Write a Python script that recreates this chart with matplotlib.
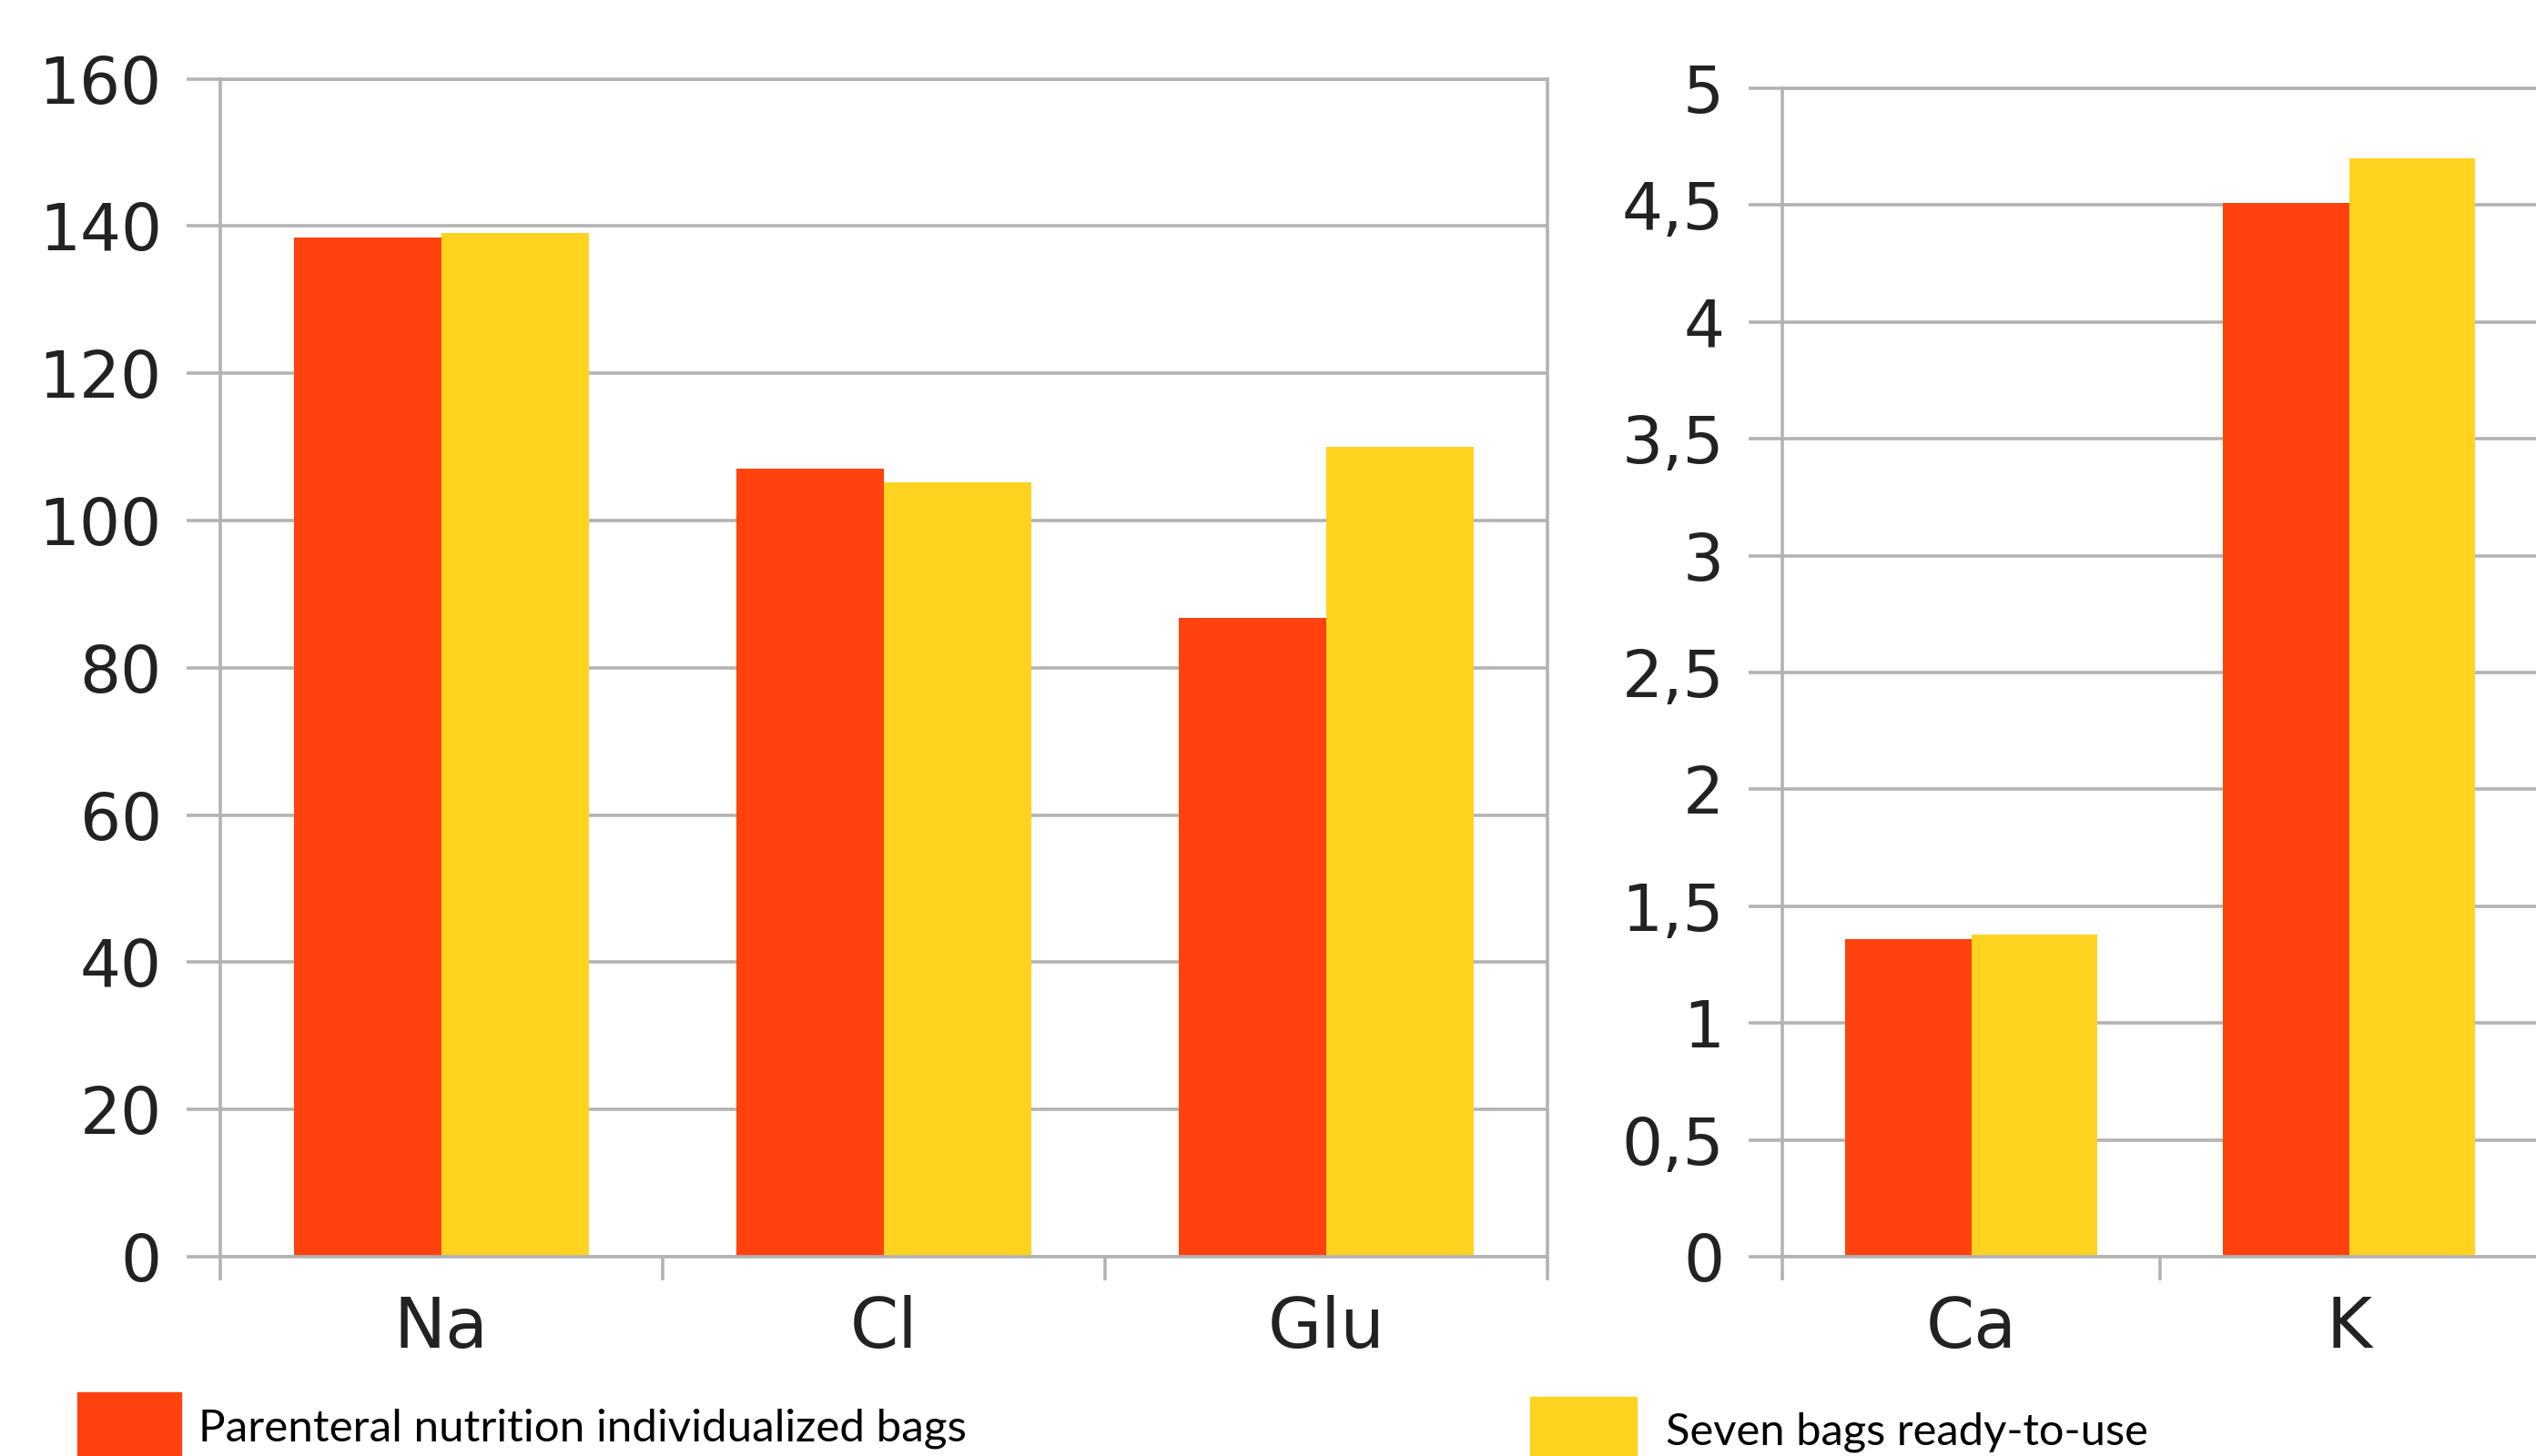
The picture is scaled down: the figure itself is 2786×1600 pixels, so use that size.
import matplotlib.pyplot as plt
import numpy as np
from matplotlib.patches import Rectangle
from matplotlib.ticker import FuncFormatter, FixedLocator

# ---------------------------------------------------------
# data
# ---------------------------------------------------------
left_cats = ["Na", "Cl", "Glu"]
left_individual = [138.4, 107.0, 86.8]
left_ready = [139.0, 105.2, 110.0]

right_cats = ["Ca", "K"]
right_individual = [1.36, 4.51]
right_ready = [1.38, 4.70]

series_names = [
    "Parenteral nutrition individualized bags",
    "Seven bags ready-to-use",
]

RED = "#ff420e"
YELLOW = "#ffd320"
GRID = "#b3b3b3"
TXT = "#222222"

plt.rcParams["font.family"] = ["DejaVu Sans"]

fig = plt.figure(figsize=(27.86, 16), dpi=100)

ax1 = fig.add_axes([0.0868, 0.1369, 0.5234, 0.809])
ax2 = fig.add_axes([0.7028, 0.1369, 0.2980, 0.8025])


def draw_panel(ax, cats, v1, v2, ymax, step):
    x = np.arange(len(cats))
    w = 1 / 3
    ax.bar(x - w / 2, v1, width=w, color=RED, zorder=2)
    ax.bar(x + w / 2, v2, width=w, color=YELLOW, zorder=2)

    ax.set_xlim(-0.5, len(cats) - 0.5)
    ax.set_ylim(0, ymax)
    ax.set_yticks(np.arange(0, ymax + step / 2, step))
    ax.yaxis.set_major_formatter(
        FuncFormatter(lambda v, p: f"{v:g}".replace(".", ","))
    )

    # category borders as ticks, labels on the centres
    ax.xaxis.set_major_locator(FixedLocator(np.arange(len(cats) + 1) - 0.5))
    ax.xaxis.set_minor_locator(FixedLocator(x))
    ax.set_xticklabels([], minor=False)
    ax.set_xticklabels(cats, minor=True)

    ax.grid(axis="y", color=GRID, linewidth=2.6, zorder=0)
    ax.set_axisbelow(True)

    for s in ax.spines.values():
        s.set_color(GRID)
        s.set_linewidth(2.6)

    ax.tick_params(axis="y", length=27, width=2.6, color=GRID,
                   pad=19, labelsize=51, labelcolor=TXT)
    ax.tick_params(axis="x", which="major", length=19, width=2.6,
                   color=GRID)
    ax.tick_params(axis="x", which="minor", length=0, pad=30,
                   labelsize=55, labelcolor=TXT)


draw_panel(ax1, left_cats, left_individual, left_ready, 160, 20)
draw_panel(ax2, right_cats, right_individual, right_ready, 5, 0.5)

# legend entries, boxes run off the bottom edge as in the original
fig.add_artist(Rectangle((0.0305, -0.02), 0.0409, 0.0638,
                         transform=fig.transFigure, color=RED))
fig.add_artist(Rectangle((0.6034, -0.02), 0.0420, 0.0606,
                         transform=fig.transFigure, color=YELLOW))
fig.text(0.0782, 0.0106, series_names[0], family=["Lato"],
         fontsize=35.6, va="baseline", color="black")
fig.text(0.6567, 0.0075, series_names[1], family=["Lato"],
         fontsize=35.2, va="baseline", color="black")

plt.savefig("out.png", dpi=100)
plt.close()
